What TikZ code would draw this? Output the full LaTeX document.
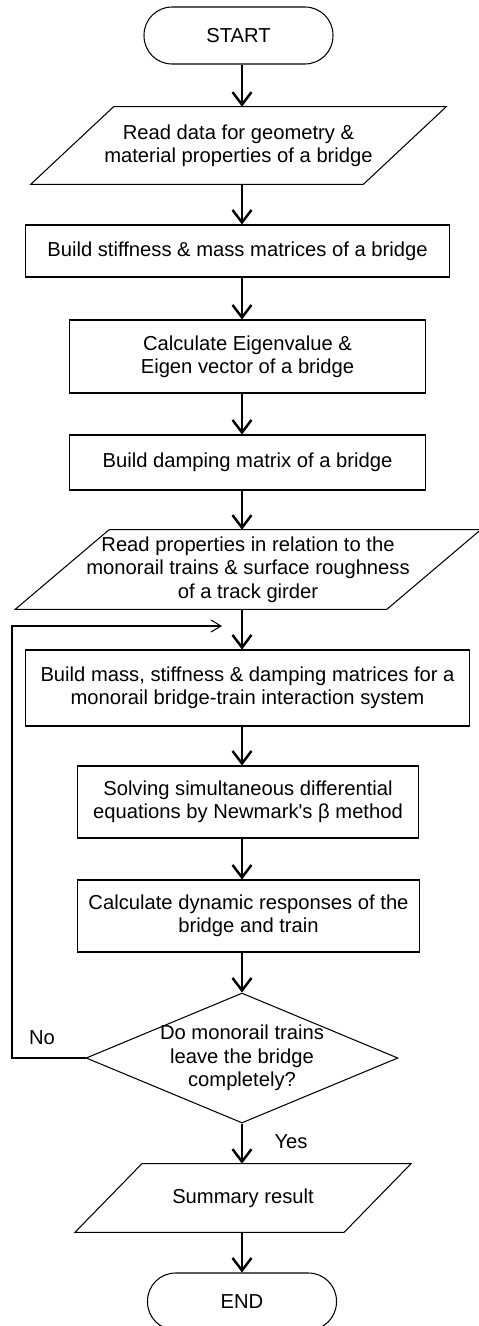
\documentclass[tikz,border=0pt]{standalone}
\usepackage{fontspec}
\newfontfamily\flowfont{Liberation Sans}
\usetikzlibrary{arrows.meta,shapes.geometric}

\begin{document}
\begin{tikzpicture}[x=0.02cm,y=-0.02cm,
    every node/.style={font=\flowfont\fontsize{11.5pt}{13.3pt}\selectfont,align=center},
    term/.style={draw,line width=0.6pt,rounded corners=0.56cm,
      minimum width=3.78cm,minimum height=1.14cm},
    procbox/.style={draw,line width=0.6pt,inner sep=0pt},
    % input/output box: half the slant is the argument
    iobox/.style={inner sep=0pt,append after command={\pgfextra{\draw[line width=0.6pt]
      ([xshift=-#1]\tikzlastnode.south west) -- ([xshift=#1]\tikzlastnode.north west)
      -- ([xshift=#1]\tikzlastnode.north east) -- ([xshift=-#1]\tikzlastnode.south east)
      -- cycle;}}},
    decide/.style={draw,line width=0.6pt,diamond,aspect=2.4,
      inner xsep=0pt,inner ysep=-0.3cm},
    flow/.style={line width=1.4pt,-{Straight Barb[length=0.25cm,width=0.38cm]}},
    loopline/.style={line width=0.6pt,-{Straight Barb[length=0.2cm,width=0.24cm]}}]
  \useasboundingbox (0,0) rectangle (479,1326);

  \coordinate (axis) at (242,0);
  \coordinate (loopx) at (12,0);
  \coordinate (loopend) at (222,626);

  \node[term] (start) at (238.5,35.5) {START};
  \node[iobox=0.83cm,minimum width=6.64cm,minimum height=1.54cm] (read1) at (238.5,145.5)
    {Read data for geometry \&\\material properties of a bridge};
  \node[procbox,minimum width=8.5cm,minimum height=1.04cm] (build1) at (237.5,251)
    {Build stiffness \& mass matrices of a bridge};
  \node[procbox,minimum width=7.14cm,minimum height=1.46cm] (eigen) at (247.5,356.5)
    {Calculate Eigenvalue \&\\Eigen vector of a bridge};
  \node[procbox,minimum width=7.14cm,minimum height=1.1cm] (damp) at (247.5,462.5)
    {Build damping matrix of a bridge};
  \node[iobox=0.94cm,minimum width=7.42cm,minimum height=1.58cm] (read2) at (248,569.5)
    {Read properties in relation to the\\monorail trains \& surface roughness\\of a track girder};
  \node[procbox,minimum width=8.9cm,minimum height=1.52cm] (mass) at (247.5,688)
    {Build mass, stiffness \& damping matrices for a\\monorail bridge-train interaction system};
  \node[procbox,minimum width=6.84cm,minimum height=1.44cm] (solve) at (248,802)
    {Solving simultaneous differential\\equations by Newmark's β method};
  \node[procbox,minimum width=6.86cm,minimum height=1.44cm] (resp) at (248.5,916)
    {Calculate dynamic responses of the\\bridge and train};
  \node[decide,minimum width=6.24cm,minimum height=2.6cm] (check) at (242,1058)
    {Do monorail trains\\leave the bridge\\completely?};
  \node[iobox=0.67cm,minimum width=5.37cm,minimum height=1.36cm] (summ) at (243,1198)
    {Summary result};
  \node[term] (finish) at (242,1301.5) {END};

  \node (nolbl) at (42,1038) {No};
  \node (yeslbl) at (291,1142) {Yes};

  \foreach \a/\b in {start/read1,read1/build1,build1/eigen,eigen/damp,damp/read2,
      read2/mass,mass/solve,solve/resp,resp/check,check/summ,summ/finish}
    \draw[flow] (\a.south -| axis) -- (\b.north -| axis);

  \draw[loopline] (check.west) -- (check.west -| loopx) |- (loopend);
\end{tikzpicture}
\end{document}
